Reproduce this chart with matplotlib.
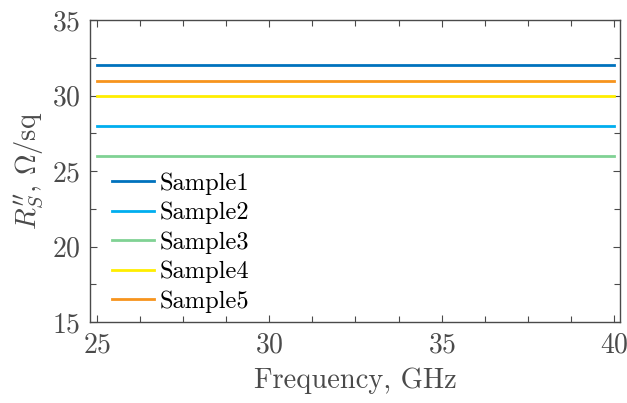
import matplotlib
matplotlib.use('agg')
import matplotlib.pyplot as plt
from matplotlib.ticker import MultipleLocator

plt.rcParams['font.family'] = ['cmr10', 'DejaVu Serif']
plt.rcParams['mathtext.fontset'] = 'cm'
plt.rcParams['axes.formatter.use_mathtext'] = True

# data
freq = [25, 40]
labels = ['Sample1', 'Sample2', 'Sample3', 'Sample4', 'Sample5']
rs_values = [32, 28, 26, 30, 31]
colors = ['#0072BD', '#00AEEF', '#80D294', '#FFEE00', '#F7941D']

axisColor = '#4a4a4a'

fig = plt.figure(figsize=(6.27, 4.03), dpi=100)
ax = fig.add_axes([0.1435, 0.201, 0.8453, 0.749])

for lab, val, col in zip(labels, rs_values, colors):
    ax.plot(freq, [val, val], color=col, linewidth=2.0, label=lab)

ax.set_xlim(24.8, 40.17)
ax.set_ylim(15, 35)
ax.xaxis.set_major_locator(MultipleLocator(5))
ax.xaxis.set_minor_locator(MultipleLocator(1.25))
ax.yaxis.set_major_locator(MultipleLocator(5))
ax.yaxis.set_minor_locator(MultipleLocator(2.5))

ax.tick_params(which='both', direction='in', top=True, right=True,
               color=axisColor, labelcolor=axisColor, labelsize=20, width=0.8)
ax.tick_params(which='major', length=5, pad=7)
ax.tick_params(which='minor', length=4)
for sp in ax.spines.values():
    sp.set_color(axisColor)
    sp.set_linewidth(1.0)

ax.set_xlabel('Frequency, GHz', fontsize=20.5, color=axisColor, labelpad=7)
ax.set_ylabel(r"$R_S^{\prime\prime}$, $\Omega$/sq", fontsize=20.5, color=axisColor, labelpad=4)

leg = ax.legend(loc='lower left', bbox_to_anchor=(0.0, -0.043), frameon=False,
                fontsize=17.6, handlelength=1.72, handletextpad=0.22,
                labelspacing=0.29, borderaxespad=0.5)

fig.savefig('out.png', dpi=100)
